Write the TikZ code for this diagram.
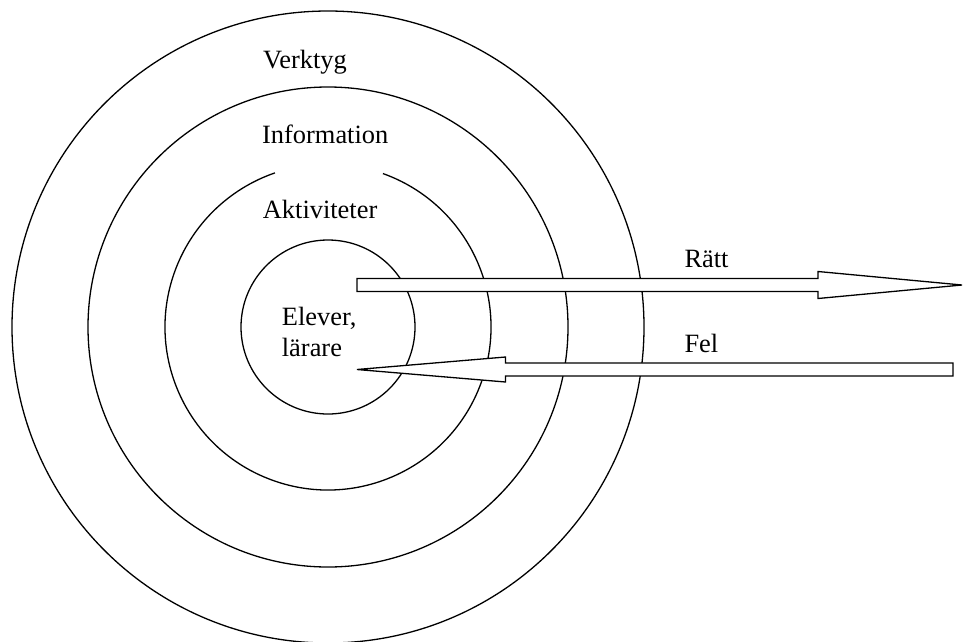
\documentclass[tikz,border=0pt]{standalone}
\usepackage{fontspec}
\setmainfont{Liberation Serif}
\usetikzlibrary{calc}
\begin{document}
\begin{tikzpicture}[x=1pt,y=-1pt,
  lbl/.style={anchor=base west, inner sep=0pt, font=\fontsize{26.4}{31.7}\selectfont},
  ring/.style={draw=black, line width=1.3pt},
  blockarrow/.style={draw=black, fill=white, line width=1.3pt}]
\useasboundingbox (0,0) rectangle (964,641);
\coordinate (c) at (328,327);
\draw[ring] (c) circle[radius=316];
\draw[ring] (c) circle[radius=240];
\draw[ring] ($(c)+(-70.3:163)$) arc[start angle=-70.3, end angle=251, radius=163];
\draw[ring] (c) circle[radius=87];
% Ratt arrow
\draw[blockarrow] (357,278.5) -- (818,278.5) -- (818,271.5) -- (962,285) -- (818,298.5) -- (818,291.5) -- (357,291.5) -- cycle;
% Fel arrow
\draw[blockarrow] (953,363) -- (505.5,363) -- (505.5,357) -- (357,369.5) -- (505.5,382) -- (505.5,376) -- (953,376) -- cycle;
\node[lbl] (verktyg) at (263,68) {Verktyg};
\node[lbl] (info) at (262,143) {Information};
\node[lbl] (akt) at (262.7,218.3) {Aktiviteter};
\node[lbl] (elever) at (281.7,325) {Elever,};
\node[lbl] (larare) at (281.7,356.7) {lärare};
\node[lbl] (ratt) at (684.3,267.3) {Rätt};
\node[lbl] (fel) at (684.3,352.7) {Fel};
\end{tikzpicture}
\end{document}
